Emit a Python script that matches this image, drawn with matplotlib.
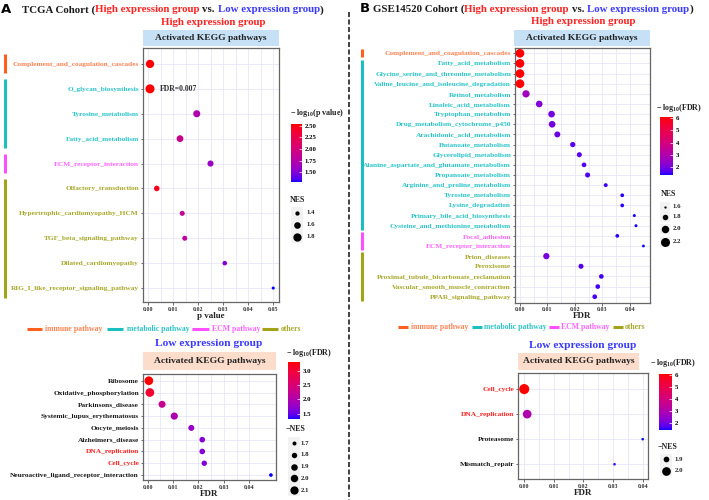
import numpy as np
import matplotlib
matplotlib.use("Agg")
import matplotlib.pyplot as plt
from matplotlib.colors import ListedColormap, Normalize
from matplotlib.lines import Line2D
from matplotlib.patches import Rectangle
from matplotlib.transforms import blended_transform_factory
import matplotlib.cm as cm

plt.rcParams["font.family"] = ["Liberation Serif", "DejaVu Serif"]
plt.rcParams["font.weight"] = "bold"
plt.rcParams["mathtext.fontset"] = "custom"
plt.rcParams["mathtext.rm"] = "Liberation Serif:bold"
plt.rcParams["mathtext.it"] = "Liberation Serif:bold"
plt.rcParams["mathtext.bf"] = "Liberation Serif:bold"

W, H = 709, 500

# ---- data: TCGA high expression group
a_hi_paths = ["Complement_and_coagulation_cascades", "O_glycan_biosynthesis",
              "Tyrosine_metabolism", "Fatty_acid_metabolism", "ECM_receptor_interaction",
              "Olfactory_transduction", "Hypertrophic_cardiomyopathy_HCM",
              "TGF_beta_signaling_pathway", "Dilated_cardiomyopathy",
              "RIG_I_like_receptor_signaling_pathway"]
a_hi_group = ["immune", "metabolic", "metabolic", "metabolic", "ECM",
              "others", "others", "others", "others", "others"]
a_hi_pvalue = [0.0008, 0.0008, 0.0195, 0.0128, 0.025, 0.0035, 0.0137, 0.0147, 0.0307, 0.0501]
a_hi_logp = [2.54, 2.54, 1.71, 1.89, 1.60, 2.46, 1.86, 1.83, 1.51, 1.29]
a_hi_nes = [1.8, 1.9, 1.65, 1.62, 1.55, 1.5, 1.45, 1.45, 1.42, 1.33]

# ---- data: TCGA low expression group
a_lo_paths = ["Ribosome", "Oxidative_phosphorylation", "Parkinsons_disease",
              "Systemic_lupus_erythematosus", "Oocyte_meiosis", "Alzheimers_disease",
              "DNA_replication", "Cell_cycle", "Neuroactive_ligand_receptor_interaction"]
a_lo_fdr = [0.0005, 0.0009, 0.0057, 0.0105, 0.0172, 0.0215, 0.0215, 0.0223, 0.0485]
a_lo_nes = [2.15, 2.15, 1.95, 1.97, 1.85, 1.82, 1.82, 1.8, 1.68]
a_lo_red = ["DNA_replication", "Cell_cycle"]

# ---- data: GSE14520 high expression group
b_hi_paths = ["Complement_and_coagulation_cascades", "Fatty_acid_metabolism",
              "Glycine_serine_and_threonine_metabolism", "Valine_leucine_and_isoleucine_degradation",
              "Retinol_metabolism", "Linoleic_acid_metabolism", "Tryptophan_metabolism",
              "Drug_metabolism_cytochrome_p450", "Arachidonic_acid_metabolism",
              "Butanoate_metabolism", "Glycerolipid_metabolism",
              "Alanine_aspartate_and_glutamate_metabolism", "Propanoate_metabolism",
              "Arginine_and_proline_metabolism", "Tyrosine_metabolism", "Lysine_degradation",
              "Primary_bile_acid_biosynthesis", "Cysteine_and_methionine_metabolism",
              "Focal_adhesion", "ECM_receptor_interaction", "Prion_diseases", "Peroxisome",
              "Proximal_tubule_bicarbonate_reclamation", "Vascular_smooth_muscle_contraction",
              "PPAR_signaling_pathway"]
b_hi_group = ["immune"] + ["metabolic"] * 17 + ["ECM"] * 2 + ["others"] * 5
b_hi_fdr = [8e-7, 8e-7, 8e-7, 8e-7, 0.0022, 0.007, 0.0115, 0.0117, 0.0136, 0.0192,
            0.0216, 0.0233, 0.0246, 0.0312, 0.0372, 0.0372, 0.0416, 0.0422, 0.0354,
            0.0449, 0.0096, 0.0222, 0.0296, 0.0283, 0.0272]
b_hi_nes = [2.16, 2.16, 2.16, 2.16, 1.98, 1.91, 1.91, 1.91, 1.84, 1.78, 1.76, 1.73,
            1.76, 1.68, 1.67, 1.67, 1.63, 1.63, 1.67, 1.62, 1.87, 1.76, 1.73, 1.73, 1.73]

# ---- data: GSE14520 low expression group
b_lo_paths = ["Cell_cycle", "DNA_replication", "Proteasome", "Mismatch_repair"]
b_lo_fdr = [8e-7, 0.001, 0.040, 0.0305]
b_lo_nes = [2.06, 2.0, 1.84, 1.84]
b_lo_red = ["Cell_cycle", "DNA_replication"]

groups = ["immune", "metabolic", "ECM", "others"]
group_names = ["immune pathway", "metabolic pathway", "ECM pathway", "others"]
group_line = {"immune": "#FF5F1F", "metabolic": "#1BBFBF", "ECM": "#FF4FFF", "others": "#A3A317"}
group_text = {"immune": "#FF8454", "metabolic": "#2CC3C8", "ECM": "#FF66FF", "others": "#A8A82C"}


# blue -> red gradient interpolated in CIELAB, like ggplot's scale_colour_gradient
def _lab(rgb):
    c = np.where(rgb > 0.04045, ((rgb + 0.055) / 1.055) ** 2.4, rgb / 12.92)
    m = np.array([[0.4124, 0.3576, 0.1805], [0.2126, 0.7152, 0.0722], [0.0193, 0.1192, 0.9505]])
    xyz = m @ c / np.array([0.95047, 1.0, 1.08883])
    f = np.where(xyz > 0.008856, np.cbrt(xyz), 7.787 * xyz + 16 / 116)
    return np.array([116 * f[1] - 16, 500 * (f[0] - f[1]), 200 * (f[1] - f[2])])


def _rgb(lab):
    fy = (lab[1 - 1] + 16) / 116
    fx = fy + lab[1] / 500
    fz = fy - lab[2] / 200
    f = np.array([fx, fy, fz])
    xyz = np.where(f > 0.2069, f ** 3, (f - 16 / 116) / 7.787) * np.array([0.95047, 1.0, 1.08883])
    mi = np.array([[3.2406, -1.5372, -0.4986], [-0.9689, 1.8758, 0.0415], [0.0557, -0.2040, 1.0570]])
    c = mi @ xyz
    c = np.where(c > 0.0031308, 1.055 * np.abs(c) ** (1 / 2.4) - 0.055, 12.92 * c)
    return np.clip(c, 0, 1)


lab_lo, lab_hi = _lab(np.array([0.0, 0.0, 1.0])), _lab(np.array([1.0, 0.0, 0.0]))
cmap = ListedColormap([_rgb(lab_lo + t * (lab_hi - lab_lo)) for t in np.linspace(0, 1, 256)])

fig = plt.figure(figsize=(W / 100, H / 100), dpi=100)


def px(x0, y0, x1, y1):
    return [x0 / W, 1 - y1 / H, (x1 - x0) / W, (y1 - y0) / H]


def diam(v, anchors):
    (v1, d1), (v2, d2) = anchors
    area = d1 ** 2 + (np.asarray(v, float) - v1) * (d2 ** 2 - d1 ** 2) / (v2 - v1)
    return np.sqrt(np.clip(area, 1, None))


def dot_panel(rect, xlim, ylim, xticks, paths, xv, cv, nes, anchors, lab_colors, xlabel, label_y):
    ax = fig.add_axes(px(*rect))
    y = np.arange(len(paths))
    norm = Normalize(min(cv), max(cv))
    ax.scatter(xv, y, s=(diam(nes, anchors) * 0.72) ** 2, c=cv, cmap=cmap, norm=norm,
               linewidths=0, zorder=3, clip_on=False)
    ax.set_xlim(*xlim)
    ax.set_ylim(*ylim)
    ax.set_xticks(xticks)
    ax.set_xticklabels(["%.2f" % t for t in xticks])
    ax.set_xticks(np.array(xticks[:-1]) + 0.005, minor=True)
    ax.set_yticks(y)
    ax.set_yticklabels(paths)
    for t, c in zip(ax.get_yticklabels(), lab_colors):
        t.set_color(c)
    ax.tick_params(axis="y", labelsize=5.3, length=1.8, width=0.5, color="#333333", pad=1)
    ax.tick_params(axis="x", labelsize=4.3, length=1.8, width=0.5, color="#333333", pad=1.5,
                   labelcolor="#333333")
    ax.tick_params(axis="x", which="minor", length=0)
    ax.grid(True, which="both", color="#E6E6F7", lw=0.6)
    ax.set_axisbelow(True)
    for sp in ax.spines.values():
        sp.set_color("#666666")
        sp.set_linewidth(0.9)
    fig.text((rect[0] + rect[2]) / 2 / W, 1 - label_y / H, xlabel, ha="center", va="center",
             fontsize=6.5, color="#222222")
    return ax, norm


def strip(rect, color):
    s = fig.add_axes(px(*rect))
    s.set_facecolor(color)
    s.set_xticks([])
    s.set_yticks([])
    for sp in s.spines.values():
        sp.set_visible(False)
    s.text(0.5, 0.5, "Activated KEGG pathways", ha="center", va="center", fontsize=6.8,
           color="#222222", transform=s.transAxes)


def colorbar(rect, norm, ticks, fmt, title, tx, ty):
    cax = fig.add_axes(px(*rect))
    cb = fig.colorbar(cm.ScalarMappable(norm=norm, cmap=cmap), cax=cax)
    cb.outline.set_visible(False)
    cb.set_ticks(ticks)
    cb.set_ticklabels([fmt % t for t in ticks])
    cax.tick_params(labelsize=4.9, length=2, width=0.5, color="white", direction="in", pad=2)
    fig.text(tx / W, 1 - ty / H, title, ha="left", va="center", fontsize=5.8, color="#222222")


def size_legend(title, values, anchors, tx, ty, ys, cx, lx):
    fig.text(tx / W, 1 - ty / H, title, ha="left", va="center", fontsize=5.8, color="#222222")
    step = ys[1] - ys[0]
    for v, yy in zip(values, ys):
        fig.add_artist(Rectangle(((cx - step / 2) / W, 1 - (yy + step / 2) / H), step / W,
                                 step / H, transform=fig.transFigure, color="#F2F2F2", lw=0))
        fig.add_artist(Line2D([cx / W], [1 - yy / H], marker="o", ls="", color="black",
                              markersize=float(diam([v], anchors)[0]) * 0.72, mew=0))
        fig.text(lx / W, 1 - yy / H, "%.1f" % v, ha="left", va="center", fontsize=4.9,
                 color="#222222")


def group_bars(ax, grp, xpix):
    tr = blended_transform_factory(fig.transFigure, ax.transData)
    i = 0
    while i < len(grp):
        j = i
        while j + 1 < len(grp) and grp[j + 1] == grp[i]:
            j += 1
        fig.add_artist(Line2D([xpix / W, xpix / W], [i - 0.38, j + 0.38], transform=tr,
                              color=group_line[grp[i]], lw=2.2, solid_capstyle="butt"))
        i = j + 1


def group_legend(y, entries):
    for (x0, x1, xt), g, name in zip(entries, groups, group_names):
        fig.add_artist(Line2D([x0 / W, x1 / W], [1 - y / H] * 2, color=group_line[g], lw=2.2,
                              solid_capstyle="butt"))
        fig.text(xt / W, 1 - y / H, name, ha="left", va="center", fontsize=5.6,
                 color=group_text[g])


renderer = fig.canvas.get_renderer()


def color_line(x, y, parts, size):
    sp = fig.text(0, 0, "a a", fontsize=size)
    sp2 = fig.text(0, 0, "aa", fontsize=size)
    gap = sp.get_window_extent(renderer).width - sp2.get_window_extent(renderer).width
    sp.remove()
    sp2.remove()
    for s, c, g in parts:
        t = fig.text(x / W, 1 - y / H, s, color=c, fontsize=size, ha="left", va="center")
        x += t.get_window_extent(renderer).width + (gap if g else 0)


RED = "#FF2222"
BLUE = "#3A3AFF"
DARK = "#1A1A1A"


def header(letter, lx, y):
    fig.text(lx / W, 1 - y / H, letter, fontsize=9.5, family="DejaVu Sans",
             fontweight="bold", ha="left", va="center", color="black")


# ================= panel A =================
header("A", 1, 9.5)
color_line(22, 10, [("TCGA Cohort (", DARK, False), ("High expression group", RED, True),
                    ("vs.", DARK, True), ("Low expression group", BLUE, False), (")", DARK, False)], 7.85)
fig.text(213 / W, 1 - 22.5 / H, "High expression group", color=RED, fontsize=7.8,
         ha="center", va="center")
strip((143, 30, 279, 46), "#C6E1F6")
cols = [group_text[g] for g in a_hi_group]
ax1, n1 = dot_panel((143, 48, 279, 302), (-0.002, 0.0524), (9.56, -0.64),
                    [0, 0.01, 0.02, 0.03, 0.04, 0.05], a_hi_paths, a_hi_pvalue, a_hi_logp,
                    a_hi_nes, ((1.4, 4.3), (1.8, 8.3)), cols, "p value", 316.5)
ax1.text(0.0048, 1, "FDR=0.007", ha="left", va="center", fontsize=5.6, color="#333333")
group_bars(ax1, a_hi_group, 5)
colorbar((291, 124, 302, 182), n1, [1.5, 1.75, 2.0, 2.25, 2.5], "%.2f",
         r"$-$ log$_{10}$(p value)", 290, 113)
size_legend("NES", [1.4, 1.6, 1.8], ((1.4, 4.3), (1.8, 8.3)), 290, 200.5,
            [213, 225, 237], 296.5, 307)
group_legend(329, [(27, 42, 45), (107, 123, 127), (192, 209, 212), (262, 278, 281)])

fig.text(209 / W, 1 - 344 / H, "Low expression group", color=BLUE, fontsize=8.2,
         ha="center", va="center")
strip((143, 352, 276, 370), "#FCDCCB")
cols = [RED if p in a_lo_red else DARK for p in a_lo_paths]
ax2, n2 = dot_panel((143, 374, 276, 480), (-0.0018, 0.0505), (8.42, -0.57),
                    [0, 0.01, 0.02, 0.03, 0.04], a_lo_paths, a_lo_fdr,
                    -np.log10(a_lo_fdr), a_lo_nes, ((1.7, 4.0), (2.1, 8.3)), cols, "FDR", 494)
colorbar((288, 362, 300, 419), n2, [1.5, 2.0, 2.5, 3.0], "%.1f",
         r"$-$ log$_{10}$(FDR)", 286, 353)
size_legend("\u2212NES", [1.7, 1.8, 1.9, 2.0, 2.1], ((1.7, 4.0), (2.1, 8.3)), 286, 429,
            [443.3, 455, 467, 478.3, 490], 294, 300.5)

# separator
fig.add_artist(Line2D([349 / W, 349 / W], [1 - 12 / H, 0], color="#222222", lw=1.2,
                      ls=(0, (3, 1.5))))

# ================= panel B =================
header("B", 360, 9)
color_line(373, 9.5, [("GSE14520 Cohort (", DARK, False), ("High expression group", RED, True),
                      ("vs.", DARK, True), ("Low expression group", BLUE, False), (")", DARK, False)], 7.85)
fig.text(583 / W, 1 - 22 / H, "High expression group", color=RED, fontsize=7.8,
         ha="center", va="center")
strip((514, 30, 650, 46), "#C6E1F6")
cols = [group_text[g] for g in b_hi_group]
ax3, n3 = dot_panel((515, 48, 650, 302.7), (-0.0018, 0.0473), (24.59, -0.52),
                    [0, 0.01, 0.02, 0.03, 0.04], b_hi_paths, b_hi_fdr,
                    -np.log10(b_hi_fdr), b_hi_nes, ((1.6, 2.3), (2.2, 9.0)), cols, "FDR", 316.5)
group_bars(ax3, b_hi_group, 361.5)
colorbar((660, 117, 673, 175), n3, [2, 3, 4, 5, 6], "%d", r"$-$ log$_{10}$(FDR)", 656, 107.5)
size_legend("NES", [1.6, 1.8, 2.0, 2.2], ((1.6, 2.3), (2.2, 9.0)), 661, 194,
            [206.7, 216.7, 229, 241.7], 665, 673)
group_legend(326.7, [(398, 408, 411), (472, 482, 484), (549, 559, 561), (613, 623, 625)])

fig.text(583 / W, 1 - 345 / H, "Low expression group", color=BLUE, fontsize=8.2,
         ha="center", va="center")
strip((518, 352.7, 639, 370), "#FCDCCB")
cols = [RED if p in b_lo_red else DARK for p in b_lo_paths]
ax4, n4 = dot_panel((518, 373.3, 648, 479.3), (-0.0021, 0.0418), (3.6, -0.63),
                    [0, 0.01, 0.02, 0.03, 0.04], b_lo_paths, b_lo_fdr,
                    -np.log10(b_lo_fdr), b_lo_nes, ((1.9, 5.7), (2.0, 8.7)), cols, "FDR", 493)
colorbar((659, 374, 672, 430), n4, [2, 3, 4, 5, 6], "%d", r"$-$ log$_{10}$(FDR)", 650, 363.3)
size_legend("\u2212NES", [1.9, 2.0], ((1.9, 5.7), (2.0, 8.7)), 658, 446.7,
            [459.3, 470.7], 666, 675)

fig.savefig("out.png", dpi=100)
